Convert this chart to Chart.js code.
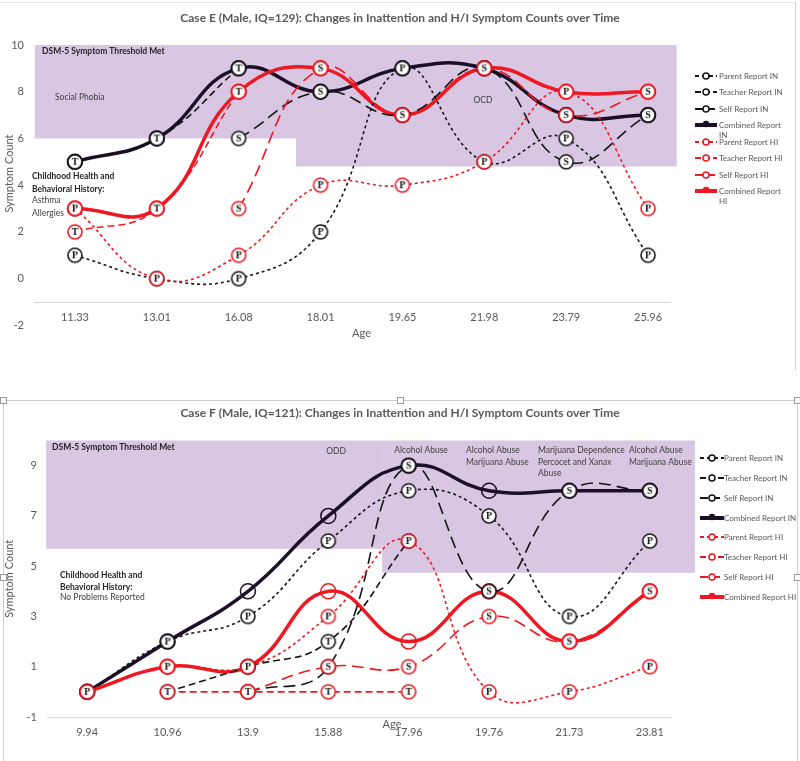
<!DOCTYPE html>
<html><head><meta charset="utf-8">
<script src="https://cdn.jsdelivr.net/npm/chart.js@4.4.0/dist/chart.umd.min.js"></script>
<style>
html,body{margin:0;padding:0;background:#fff;width:800px;height:761px;overflow:hidden;}
#w1{position:absolute;left:0;top:0;width:800px;height:360px;}
#w2{position:absolute;left:0;top:395px;width:800px;height:366px;}
.ln{position:absolute;background:#cfcfcf;}
.hd{position:absolute;width:7px;height:7px;background:#fff;border:1px solid #9a9a9a;box-sizing:border-box;}
</style></head><body>
<div class="ln" style="left:0;top:2px;width:795px;height:1px;background:#e6e6e6"></div>
<div class="ln" style="left:795px;top:2px;width:1px;height:368px;"></div>
<div id="w1"><canvas id="c1" width="800" height="360"></canvas></div>
<div id="w2"><canvas id="c2" width="800" height="366"></canvas></div>
<div class="ln" style="left:3px;top:400px;width:794px;height:1px;"></div>
<div class="ln" style="left:3px;top:400px;width:1px;height:361px;"></div>
<div class="ln" style="left:797px;top:400px;width:1px;height:361px;"></div>
<div class="hd" style="left:0px;top:397px"></div>
<div class="hd" style="left:397px;top:397px"></div>
<div class="hd" style="left:794px;top:397px"></div>
<div class="hd" style="left:0px;top:574px"></div>
<div class="hd" style="left:794px;top:574px"></div>
<script>
// ---------- DATA ----------
const seriesNames = ['Parent Report IN','Teacher Report IN','Self Report IN','Combined Report IN','Parent Report HI','Teacher Report HI','Self Report HI','Combined Report HI'];

const agesE = ['11.33','13.01','16.08','18.01','19.65','21.98','23.79','25.96'];
const parentIN_E   = [1, 0, 0, 2, 9, 5, 6, 1];
const teacherIN_E  = [5, 6, 9, null, null, null, null, null];
const selfIN_E     = [null, null, 6, 8, 7, 9, 5, 7];
const combinedIN_E = [5, 6, 9, 8, 9, 9, 7, 7];
const parentHI_E   = [3, 0, 1, 4, 4, 5, 8, 3];
const teacherHI_E  = [2, 3, 8, null, null, null, null, null];
const selfHI_E     = [null, null, 3, 9, 7, 9, 7, 8];
const combinedHI_E = [3, 3, 8, 9, 7, 9, 8, 8];
const yTicksE = [-2, 0, 2, 4, 6, 8, 10];

const agesF = ['9.94','10.96','13.9','15.88','17.96','19.76','21.73','23.81'];
const parentIN_F   = [0, 2, 3, 6, 8, 7, 3, 6];
const teacherIN_F  = [null, 0, 1, 2, 6, null, null, null];
const selfIN_F     = [null, null, 0, 1, 9, 4, 8, 8];
const combinedIN_F = [0, 2, 4, 7, 9, 8, 8, 8];
const parentHI_F   = [0, 1, 1, 3, 6, 0, 0, 1];
const teacherHI_F  = [null, 0, 0, 0, 0, null, null, null];
const selfHI_F     = [null, null, 0, 1, 1, 3, 2, 4];
const combinedHI_F = [0, 1, 1, 4, 2, 4, 2, 4];
const yTicksF = [-1, 1, 3, 5, 7, 9];

const titleE = 'Case E (Male, IQ=129): Changes in Inattention and H/I Symptom Counts over Time';
const titleF = 'Case F (Male, IQ=121): Changes in Inattention and H/I Symptom Counts over Time';

// ---------- STYLE ----------
Chart.defaults.font.family = 'Lato, "Open Sans", sans-serif';
const BLACK = '#151515', COMB_IN = '#1b0f2a', RED = '#ee1822', PURPLE = '#d8c6e2', GREY = '#595959';

function makeMarker(letter, color){
  const c = document.createElement('canvas'); c.width = 18; c.height = 18;
  const g = c.getContext('2d');
  g.beginPath(); g.arc(9, 9, 7, 0, Math.PI*2); g.fillStyle = '#fff'; g.fill();
  g.lineWidth = 1.6; g.strokeStyle = color; g.stroke();
  g.fillStyle = '#111'; g.font = 'bold 10px "Liberation Serif", serif';
  g.textAlign = 'center'; g.textBaseline = 'middle'; g.fillText(letter, 9, 9.5);
  return c;
}
const DASH = {parent:[3,3], teacher:[7,4], self:[12,6], combined:[]};
function ds(label, data, color, kind, letter, order){
  const comb = kind === 'combined';
  return {
    label, data, order, borderColor: color, backgroundColor: color,
    borderWidth: comb ? 3.5 : 1.6, borderDash: DASH[kind], tension: 0.45, fill: false,
    pointStyle: comb ? 'circle' : makeMarker(letter, color),
    pointRadius: 7.5, pointBorderColor: color,
    pointBackgroundColor: comb ? 'rgba(0,0,0,0)' : '#fff',
    pointBorderWidth: comb ? 1.5 : 0, spanGaps: false, clip: false, _kind: kind
  };
}
function buildSets(p, t, s, c, ph, th, sh, ch){
  return [
    ds(seriesNames[0], p, BLACK, 'parent', 'P', 1),
    ds(seriesNames[1], t, BLACK, 'teacher', 'T', 1),
    ds(seriesNames[2], s, BLACK, 'self', 'S', 1),
    ds(seriesNames[3], c, COMB_IN, 'combined', '', 3),
    ds(seriesNames[4], ph, RED, 'parent', 'P', 0),
    ds(seriesNames[5], th, RED, 'teacher', 'T', 0),
    ds(seriesNames[6], sh, RED, 'self', 'S', 0),
    ds(seriesNames[7], ch, RED, 'combined', '', 2)
  ];
}

// ---------- PLUGINS ----------
const bandPlugin = {
  id: 'bands',
  beforeDatasetsDraw(chart, args, o){
    const {ctx, scales:{x, y}} = chart;
    ctx.save(); ctx.fillStyle = PURPLE;
    o.bands.forEach(b => {
      const x0 = x.getPixelForValue(b.x0), x1 = x.getPixelForValue(b.x1);
      const y0 = y.getPixelForValue(b.y1), y1 = y.getPixelForValue(b.y0);
      ctx.fillRect(x0, y0, x1 - x0, y1 - y0);
    });
    ctx.strokeStyle = '#d9d9d9'; ctx.lineWidth = 1;
    const ly = Math.round(y.getPixelForValue(o.axisAt)) + 0.5;
    ctx.beginPath(); ctx.moveTo(x.getPixelForValue(o.lineX0), ly); ctx.lineTo(x.getPixelForValue(o.lineX1), ly); ctx.stroke();
    ctx.textBaseline = 'middle';
    o.texts.forEach(t => {
      ctx.font = (t.bold ? 'bold ' : '') + (t.size || 8.5) + 'px Lato, sans-serif';
      ctx.fillStyle = t.color || (t.bold ? '#262626' : '#404040');
      ctx.textAlign = t.align || 'left';
      ctx.fillText(t.text, t.x, t.y);
    });
    ctx.restore();
  }
};
const legendPlugin = {
  id: 'sideLegend',
  afterDraw(chart, args, o){
    const ctx = chart.ctx; ctx.save();
    chart.data.datasets.forEach((d, i) => {
      const y = o.ys[i], x = o.x;
      const comb = d._kind === 'combined';
      ctx.strokeStyle = d.borderColor; ctx.lineWidth = comb ? 4 : 2;
      ctx.setLineDash(comb ? [] : (d._kind === 'parent' ? [4,3] : d._kind === 'teacher' ? [6,3] : [8,4]));
      ctx.beginPath(); ctx.moveTo(x, y); ctx.lineTo(x + o.len, y); ctx.stroke();
      ctx.setLineDash([]);
      ctx.beginPath(); ctx.arc(x + o.len/2, y - (comb ? 1 : 0), comb ? 2.5 : 3, 0, Math.PI*2);
      ctx.fillStyle = comb ? d.borderColor : '#fff'; ctx.fill();
      ctx.lineWidth = 1.5; ctx.stroke();
      ctx.fillStyle = GREY; ctx.font = '8px Lato, sans-serif';
      ctx.textAlign = 'left'; ctx.textBaseline = 'middle';
      const lines = o.wrap && comb ? [d.label.replace(/ (IN|HI)$/, ''), d.label.match(/(IN|HI)$/)[0]] : [d.label];
      lines.forEach((t, k) => ctx.fillText(t, o.textX, y + k * 10));
    });
    ctx.restore();
  }
};

function makeChart(id, labels, sets, title, yMin, yMax, yTicks, geom, bandOpts, legendOpts){
  return new Chart(document.getElementById(id), {
    type: 'line',
    data: {labels, datasets: sets},
    plugins: [bandPlugin, legendPlugin],
    options: {
      responsive: false, animation: false, devicePixelRatio: 1,
      layout: {padding: {left: 0, right: 0, top: 0, bottom: geom.bottom}},
      plugins: {
        legend: {display: false}, tooltip: {enabled: false},
        title: {display: true, text: title, color: GREY, font: {size: 12, weight: 'bold'}, padding: {top: 11, bottom: geom.titleBottom}},
        bands: bandOpts, sideLegend: legendOpts
      },
      scales: {
        x: {
          offset: true, grid: {display: false, drawTicks: false}, border: {display: false},
          ticks: {color: GREY, font: {size: 11}, padding: geom.xPad, maxRotation: 0, autoSkip: false},
          title: {display: geom.xTitle, text: 'Age', color: GREY, font: {size: 11}, padding: {top: 0, bottom: 3}},
          afterFit: a => { a.height = geom.xH; }
        },
        y: {
          min: yMin, max: yMax, grid: {display: false, drawTicks: false}, border: {display: false},
          afterBuildTicks: a => { a.ticks = yTicks.map(v => ({value: v})); },
          ticks: {color: GREY, font: {size: 11}, padding: 10, autoSkip: false},
          title: {display: true, text: 'Symptom Count', color: GREY, font: {size: 11}, padding: {top: 3, bottom: 0}},
          afterFit: a => { a.width = geom.yW; }
        },
        yr: {
          position: 'right', display: true, min: yMin, max: yMax,
          grid: {display: false, drawTicks: false}, border: {display: false},
          ticks: {display: false}, afterFit: a => { a.width = geom.right; }
        }
      }
    }
  });
}

makeChart('c1', agesE,
  buildSets(parentIN_E, teacherIN_E, selfIN_E, combinedIN_E, parentHI_E, teacherHI_E, selfHI_E, combinedHI_E),
  titleE, -1, 10, yTicksE,
  {right: 111, bottom: 17, titleBottom: 19.6, xPad: 9, xH: 41, yW: 34, xTitle: true},
  {bands: [{x0:-0.49, x1:2.70, y0:6, y1:10}, {x0:2.70, x1:7.35, y0:4.8, y1:10}], axisAt: -1, lineX0: -0.5, lineX1: 7.28,
   texts: [
    {text:'DSM-5 Symptom Threshold Met', x:42, y:51, bold:true},
    {text:'Social Phobia', x:55, y:97},
    {text:'OCD', x:483, y:100, align:'center'},
    {text:'Childhood Health and', x:32, y:176, bold:true},
    {text:'Behavioral History:', x:32, y:189, bold:true},
    {text:'Asthma', x:32, y:200},
    {text:'Allergies', x:32, y:213}
   ]},
  {x: 695, textX: 719, len: 22, wrap: true, ys: [76, 92, 109, 125, 142, 158, 175, 191]}
);

makeChart('c2', agesF,
  buildSets(parentIN_F, teacherIN_F, selfIN_F, combinedIN_F, parentHI_F, teacherHI_F, selfHI_F, combinedHI_F),
  titleF, -1, 10, yTicksF,
  {right: 110, bottom: 14, titleBottom: 20.1, xPad: 9, xH: 30, yW: 47, xTitle: false},
  {bands: [{x0:-0.51, x1:3.67, y0:5.69, y1:10}, {x0:3.67, x1:7.56, y0:4.74, y1:10}], axisAt: -1, lineX0: -0.5, lineX1: 7.28,
   texts: [
    {text:'DSM-5 Symptom Threshold Met', x:52, y:52, bold:true},
    {text:'ODD', x:336, y:56, align:'center'},
    {text:'Alcohol Abuse', x:421, y:55, align:'center'},
    {text:'Alcohol Abuse', x:466, y:55},
    {text:'Marijuana Abuse', x:466, y:67},
    {text:'Marijuana Dependence', x:538, y:55},
    {text:'Percocet and Xanax', x:538, y:67},
    {text:'Abuse', x:538, y:78},
    {text:'Alcohol Abuse', x:629, y:55},
    {text:'Marijuana Abuse', x:629, y:67},
    {text:'Childhood Health and', x:60, y:180, bold:true},
    {text:'Behavioral History:', x:60, y:192, bold:true},
    {text:'No Problems Reported', x:60, y:202},
    {text:'Age', x:392, y:329, align:'center', size:11, color:GREY}
   ]},
  {x: 700, textX: 724, len: 24, wrap: false, ys: [63, 83, 103, 123, 142, 162, 182, 202]}
);
</script>
</body></html>
